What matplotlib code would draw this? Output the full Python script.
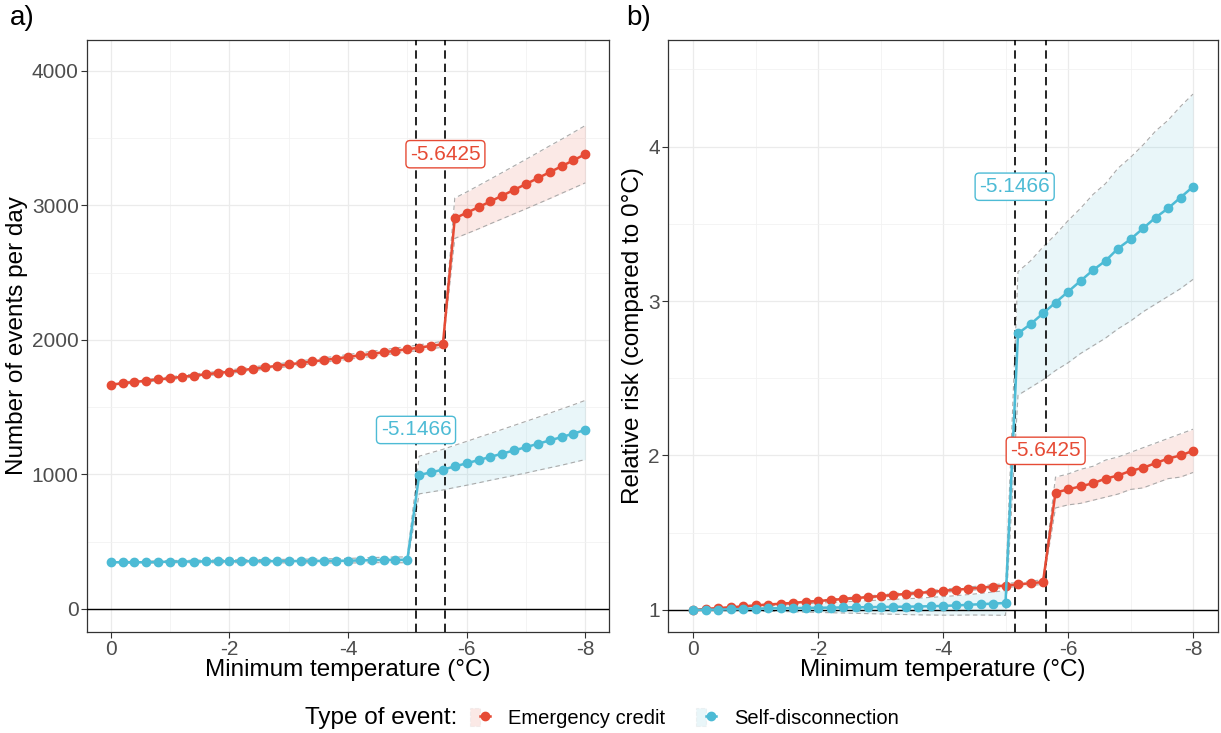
import numpy as np
import matplotlib.pyplot as plt
from matplotlib.lines import Line2D
from matplotlib.patches import Patch
from matplotlib.legend_handler import HandlerTuple

plt.rcParams['font.family'] = ['Liberation Sans', 'DejaVu Sans']

# Minimum temperature grid (deg C)
temp = [0.0, -0.2, -0.4, -0.6, -0.8, -1.0, -1.2, -1.4, -1.6, -1.8,
        -2.0, -2.2, -2.4, -2.6, -2.8, -3.0, -3.2, -3.4, -3.6, -3.8,
        -4.0, -4.2, -4.4, -4.6, -4.8, -5.0, -5.2, -5.4, -5.6, -5.8,
        -6.0, -6.2, -6.4, -6.6, -6.8, -7.0, -7.2, -7.4, -7.6, -7.8, -8.0]

thr_credit = -5.6425
thr_disconn = -5.1466

# a) number of events per day
credit_n = [1668, 1678, 1688, 1697, 1707, 1716, 1726, 1735, 1745, 1754,
            1764, 1775, 1786, 1797, 1807, 1818, 1829, 1840, 1851, 1862,
            1874, 1885, 1897, 1908, 1920, 1931, 1943, 1956, 1968, 2905,
            2945, 2987, 3030, 3073, 3116, 3159, 3203, 3247, 3291, 3336, 3381]
credit_n_ci = [8, 8, 9, 9, 10, 10, 11, 11, 12, 12,
               13, 13, 14, 14, 15, 15, 16, 16, 17, 17,
               18, 18, 19, 19, 20, 20, 21, 21, 22, 150,
               155, 161, 166, 172, 178, 184, 190, 196, 201, 207, 213]
disconn_n = [347, 348, 347, 348, 350, 352, 353, 353, 354, 354,
             355, 355, 356, 356, 356, 356, 357, 357, 358, 358,
             359, 361, 363, 365, 365, 366, 996, 1016, 1036, 1060,
             1083, 1107, 1131, 1155, 1179, 1203, 1228, 1253, 1278, 1304, 1331]
disconn_n_ci = [6, 6, 7, 7, 8, 8, 9, 9, 10, 10,
                11, 11, 12, 12, 13, 13, 14, 14, 15, 16,
                17, 18, 19, 20, 21, 22, 140, 146, 151, 157,
                163, 169, 174, 180, 186, 192, 197, 203, 209, 214, 220]

# b) relative risk compared to 0 deg C
credit_rr = [1.000, 1.006, 1.012, 1.017, 1.023, 1.029, 1.035, 1.040, 1.046, 1.052,
             1.058, 1.064, 1.071, 1.077, 1.083, 1.090, 1.097, 1.103, 1.110, 1.116,
             1.124, 1.130, 1.137, 1.144, 1.151, 1.158, 1.165, 1.173, 1.180, 1.76,
             1.78, 1.80, 1.82, 1.85, 1.87, 1.90, 1.92, 1.95, 1.98, 2.00, 2.03]
credit_rr_ci = [0.000, 0.001, 0.001, 0.002, 0.002, 0.003, 0.003, 0.004, 0.004, 0.005,
                0.005, 0.006, 0.006, 0.007, 0.007, 0.008, 0.008, 0.009, 0.009, 0.010,
                0.010, 0.011, 0.011, 0.012, 0.012, 0.013, 0.013, 0.014, 0.015, 0.10,
                0.10, 0.11, 0.11, 0.12, 0.12, 0.12, 0.13, 0.13, 0.13, 0.14, 0.14]
disconn_rr = [1.000, 1.001, 1.002, 1.004, 1.006, 1.008, 1.010, 1.011, 1.012, 1.013,
              1.014, 1.015, 1.016, 1.017, 1.018, 1.019, 1.020, 1.021, 1.022, 1.024,
              1.026, 1.029, 1.033, 1.037, 1.041, 1.045, 2.79, 2.85, 2.92, 2.99,
              3.06, 3.13, 3.20, 3.26, 3.34, 3.40, 3.47, 3.54, 3.60, 3.67, 3.74]
disconn_rr_ci = [0.000, 0.003, 0.006, 0.009, 0.012, 0.015, 0.018, 0.021, 0.024, 0.027,
                 0.030, 0.033, 0.036, 0.039, 0.042, 0.045, 0.048, 0.051, 0.054, 0.057,
                 0.060, 0.063, 0.066, 0.070, 0.075, 0.080, 0.40, 0.41, 0.43, 0.44,
                 0.46, 0.47, 0.49, 0.50, 0.52, 0.53, 0.54, 0.56, 0.57, 0.59, 0.60]

red = '#E64B35'
blue = '#4DBBD5'
tick_col = '#4D4D4D'

fig = plt.figure(figsize=(12.21, 7.33), dpi=100)
W, H = 1221, 733
ax1 = fig.add_axes([87 / W, 1 - 632 / H, (609 - 87) / W, 592 / H])
ax2 = fig.add_axes([668 / W, 1 - 632 / H, (1218 - 668) / W, 592 / H])


def draw_panel(ax, credit, credit_ci, disconn, disconn_ci, base, ylim, yticks, yminor, ylabel):
    x = np.array(temp)
    for vals, ci, col in [(credit, credit_ci, red), (disconn, disconn_ci, blue)]:
        v = np.array(vals)
        c = np.array(ci)
        ax.fill_between(x, v - c, v + c, color=col, alpha=0.12, lw=0, zorder=2)
        ax.plot(x, v - c, color='#AAAAAA', ls=(0, (4, 3)), lw=0.8, zorder=2)
        ax.plot(x, v + c, color='#AAAAAA', ls=(0, (4, 3)), lw=0.8, zorder=2)
    ax.axhline(base, color='black', lw=1.0, zorder=3)
    ax.axvline(thr_disconn, color='black', ls=(0, (5, 3)), lw=1.2, zorder=3)
    ax.axvline(thr_credit, color='black', ls=(0, (5, 3)), lw=1.2, zorder=3)
    for vals, col, thr in [(credit, red, thr_credit), (disconn, blue, thr_disconn)]:
        ax.plot(x, vals, color=col, lw=1.8, marker='o', ms=6, zorder=4)
        ax.text(thr, max(vals), f'{thr}', ha='center', va='center', color=col,
                fontsize=15, zorder=6,
                bbox=dict(boxstyle='round,pad=0.2', fc='white', ec=col, lw=1.0))
    ax.set_xlim(0.4, -8.4)
    ax.set_ylim(*ylim)
    ax.set_xticks([0, -2, -4, -6, -8])
    ax.set_xticklabels(['0', '-2', '-4', '-6', '-8'])
    ax.set_xticks([-1, -3, -5, -7], minor=True)
    ax.set_yticks(yticks)
    ax.set_yticks(yminor, minor=True)
    ax.grid(which='major', color='#EBEBEB', lw=0.9, zorder=0)
    ax.grid(which='minor', color='#F2F2F2', lw=0.6, zorder=0)
    ax.set_axisbelow(True)
    ax.tick_params(which='major', labelsize=15, labelcolor=tick_col, color='#333333',
                   length=4, pad=2)
    ax.tick_params(which='minor', length=0)
    for s in ax.spines.values():
        s.set_color('#333333')
        s.set_linewidth(0.9)
    ax.set_xlabel('Minimum temperature (°C)', fontsize=17.5, labelpad=0)
    ax.set_ylabel(ylabel, fontsize=17.5, labelpad=3)


draw_panel(ax1, credit_n, credit_n_ci, disconn_n, disconn_n_ci, 0,
           (-171, 4230), [0, 1000, 2000, 3000, 4000], [500, 1500, 2500, 3500],
           'Number of events per day')
draw_panel(ax2, credit_rr, credit_rr_ci, disconn_rr, disconn_rr_ci, 1,
           (0.857, 4.69), [1, 2, 3, 4], [1.5, 2.5, 3.5, 4.5],
           'Relative risk (compared to 0°C)')

fig.text(10 / W, 1 - 18 / H, 'a)', fontsize=20, va='center', ha='left')
fig.text(626 / W, 1 - 18 / H, 'b)', fontsize=20, va='center', ha='left')

# legend
handles = []
for col in [red, blue]:
    patch = Patch(facecolor=col, alpha=0.12, edgecolor='#AAAAAA', linestyle='--', lw=0.8)
    line = Line2D([], [], color=col, lw=1.8, marker='o', ms=6)
    handles.append((patch, line))
fig.text(305 / W, 1 - 718 / H, 'Type of event:', fontsize=17.5, va='center', ha='left')
fig.legend(handles, ['Emergency credit', 'Self-disconnection'],
           handler_map={tuple: HandlerTuple(ndivide=None, pad=0)},
           loc='center left', bbox_to_anchor=(452 / W, 1 - 718 / H), ncol=2,
           frameon=False, fontsize=14.5, handlelength=1.0, handleheight=1.0,
           handletextpad=0.9, columnspacing=1.5)

fig.savefig('out.png', dpi=100)
